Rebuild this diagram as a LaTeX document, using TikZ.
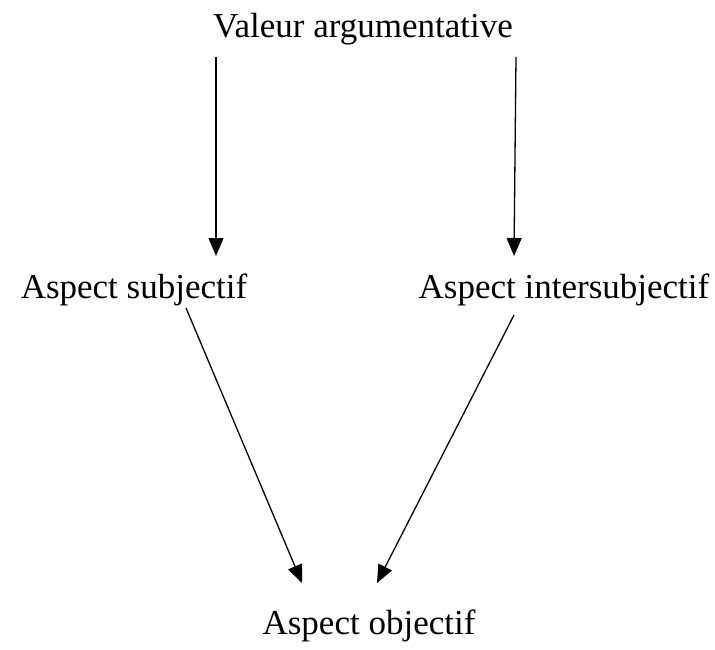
\documentclass[tikz,border=0pt]{standalone}
\usepackage{fontspec}
\setmainfont{Liberation Serif}
\usetikzlibrary{arrows.meta}

\begin{document}
\begin{tikzpicture}[x=1pt,y=1pt,yscale=-1,xscale=1,
  txt/.style={anchor=base,inner sep=0.75pt,font=\fontsize{35}{42}\selectfont},
  arr/.style={line width=1.3pt,-{Triangle[length=18pt,width=15pt]}}]
\useasboundingbox (0,0) rectangle (715,650);

% Text Nodes
\node[txt] (valeur) at (363,38) {Valeur argumentative};
\node[txt] (subj) at (134,298) {Aspect subjectif};
\node[txt] (inter) at (564,298) {Aspect intersubjectif};
\node[txt] (obj) at (369,634) {Aspect objectif};

% arrow ends
\coordinate (v1) at (216,57);
\coordinate (v2) at (516,57);
\coordinate (s1) at (216,256);
\coordinate (i1) at (514,256);
\coordinate (s2) at (186,308);
\coordinate (i2) at (514,315);
\coordinate (o1) at (302,583);
\coordinate (o2) at (377,583);

% Arrows
\draw[arr] (v1) -- (s1);
\draw[arr] (v2) -- (i1);
\draw[arr] (s2) -- (o1);
\draw[arr] (i2) -- (o2);

\end{tikzpicture}
\end{document}
